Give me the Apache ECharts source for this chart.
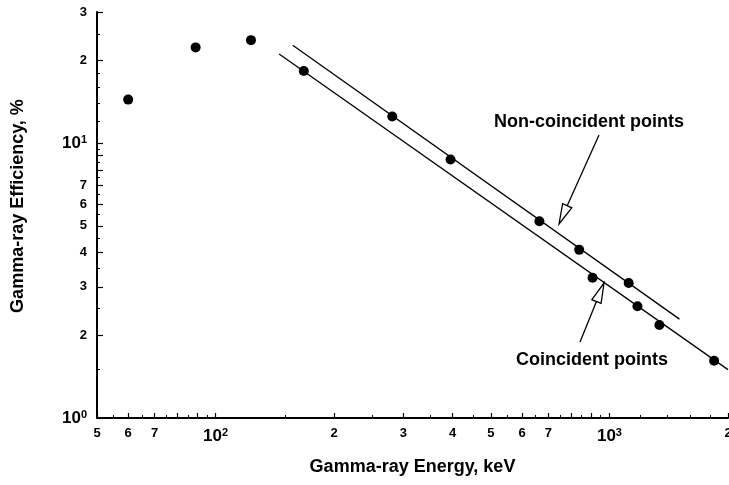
<!DOCTYPE html>
<html>
<head>
<meta charset="utf-8">
<script src="https://cdn.jsdelivr.net/npm/echarts@6/dist/echarts.min.js"></script>
<style>html,body{margin:0;background:#fff}#chart{width:729px;height:485px}</style>
</head>
<body>
<div id="chart"></div>
<script>
(function(){

    // measured points, keV vs %
    var energy = [60, 89, 123, 167.5, 281, 395, 664, 838, 906, 1119, 1178, 1339, 1844];
    var efficiency = [14.4, 22.3, 23.7, 18.3, 12.5, 8.72, 5.2, 4.09, 3.24, 3.1, 2.55, 2.18, 1.615];

    // fitted lines (end points)
    var nonCoincidentFit = [[157, 22.7], [1506, 2.29]];
    var coincidentFit = [[145, 21.1], [2000, 1.5]];

    var xLabelValues = [50, 60, 70, 100, 200, 300, 400, 500, 600, 700, 1000, 2000];
    var xMajorTicks = [50, 60, 70, 80, 90, 100, 200, 300, 400, 500, 600, 700, 800, 900, 1000, 2000];
    var xMinorTicks = [55, 65, 75, 85, 95, 150, 250, 350, 450, 550, 650, 750, 850, 950, 1200, 1400, 1600, 1800];
    var yLabelValues = [1, 2, 3, 4, 5, 6, 7, 10, 20, 30];
    var yMajorTicks = [1, 2, 3, 4, 5, 6, 7, 8, 9, 10, 20, 30];
    var yMinorTicks = [1.5, 2.5, 3.5, 4.5, 5.5, 6.5, 7.5, 8.5, 9.5, 12, 14, 16, 18, 25];

    var chart = echarts.init(document.getElementById('chart'));
    var FONT = '"Liberation Sans", Arial, sans-serif';

    function tickText(v) {
        var p = Math.round(Math.log10(v) * 1000) / 1000;
        if (Math.abs(p - Math.round(p)) < 1e-6) return '{b|10}{s|' + Math.round(p) + '}';
        return '{d|' + Math.round(v / Math.pow(10, Math.floor(Math.log10(v)))) + '}';
    }

    var rich = {
        d: { fontSize: 13, fontWeight: 'bold', fontFamily: FONT, color: '#000' },
        b: { fontSize: 17, fontWeight: 'bold', fontFamily: FONT, color: '#000' },
        s: { fontSize: 11, fontWeight: 'bold', fontFamily: FONT, color: '#000', verticalAlign: 'top', padding: [0, 0, 7, 0] }
    };

    function arrow(tail, tip) {
        var dx = tip[0] - tail[0], dy = tip[1] - tail[1];
        var len = Math.sqrt(dx * dx + dy * dy);
        var ux = dx / len, uy = dy / len, hl = 20, hw = 5;
        var bx = tip[0] - ux * hl, by = tip[1] - uy * hl;
        return [
            { type: 'line', shape: { x1: tail[0], y1: tail[1], x2: bx, y2: by },
              style: { stroke: '#000', lineWidth: 1.3 } },
            { type: 'polygon', shape: { points: [tip, [bx - uy * hw, by + ux * hw], [bx + uy * hw, by - ux * hw]] },
              style: { fill: '#fff', stroke: '#000', lineWidth: 1.3 } }
        ];
    }

    var scatterData = energy.map(function (e, i) { return [e, efficiency[i]]; });

    var option = {
        animation: false,
        backgroundColor: '#fff',
        grid: { left: 97, right: 1, top: 12, bottom: 67, containLabel: false, outerBoundsMode: 'none' },
        xAxis: [{
            type: 'log', logBase: 10, min: 50, max: 2000,
            name: 'Gamma-ray Energy, keV', nameLocation: 'middle', nameGap: 40,
            nameTextStyle: { fontSize: 18, fontWeight: 'bold', fontFamily: FONT, color: '#000' },
            axisLine: { lineStyle: { color: '#000', width: 2 } },
            axisTick: { inside: true, length: 5, customValues: xMajorTicks, lineStyle: { color: '#000', width: 1.2 } },
            axisLabel: { customValues: xLabelValues, margin: 9, formatter: tickText, rich: rich },
            splitLine: { show: false }
        }, {
            type: 'log', logBase: 10, min: 50, max: 2000, position: 'bottom',
            axisLine: { show: false },
            axisTick: { inside: true, length: 3, customValues: xMinorTicks, lineStyle: { color: '#000', width: 1 } },
            axisLabel: { show: false },
            splitLine: { show: false }
        }],
        yAxis: [{
            type: 'log', logBase: 10, min: 1, max: 30,
            name: 'Gamma-ray Efficiency, %', nameLocation: 'middle', nameGap: 70,
            nameTextStyle: { fontSize: 18, fontWeight: 'bold', fontFamily: FONT, color: '#000', padding: [0, 0, 0, 18] },
            axisLine: { lineStyle: { color: '#000', width: 2 } },
            axisTick: { inside: true, length: 6, customValues: yMajorTicks, lineStyle: { color: '#000', width: 1.2 } },
            axisLabel: { customValues: yLabelValues, margin: 10, formatter: tickText, rich: rich },
            splitLine: { show: false }
        }, {
            type: 'log', logBase: 10, min: 1, max: 30, position: 'left',
            axisLine: { show: false },
            axisTick: { inside: true, length: 3, customValues: yMinorTicks, lineStyle: { color: '#000', width: 1 } },
            axisLabel: { show: false },
            splitLine: { show: false }
        }],
        series: [{
            name: 'Non-coincident fit', type: 'line', data: nonCoincidentFit,
            symbol: 'none', lineStyle: { color: '#000', width: 1.3 }, z: 2
        }, {
            name: 'Coincident fit', type: 'line', data: coincidentFit,
            symbol: 'none', lineStyle: { color: '#000', width: 1.3 }, z: 2
        }, {
            name: 'Efficiency', type: 'scatter', data: scatterData,
            symbol: 'circle', symbolSize: 10, itemStyle: { color: '#000', opacity: 1 }, z: 3
        }],
        graphic: [
            { type: 'text', x: 589, y: 122, style: { text: 'Non-coincident points', font: 'bold 18px ' + FONT, fill: '#000', align: 'center', verticalAlign: 'middle' } },
            { type: 'text', x: 592, y: 360, style: { text: 'Coincident points', font: 'bold 18px ' + FONT, fill: '#000', align: 'center', verticalAlign: 'middle' } }
        ].concat(arrow([599, 135], [559, 224]), arrow([580, 342], [604, 283]))
    };

    chart.setOption(option);

})();
</script>
</body>
</html>
